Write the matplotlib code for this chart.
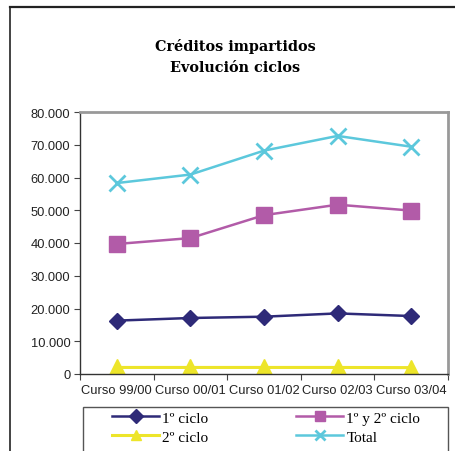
"""Créditos impartidos - evolución ciclos"""
import matplotlib.pyplot as plt
from matplotlib.lines import Line2D
from matplotlib.patches import Rectangle
from matplotlib.ticker import FuncFormatter

# Data
cursos = ["Curso 99/00", "Curso 00/01", "Curso 01/02", "Curso 02/03", "Curso 03/04"]
primer_ciclo = [16300, 17100, 17500, 18500, 17700]
primer_segundo = [39700, 41500, 48500, 51700, 49900]
segundo_ciclo = [2000, 2000, 2000, 2000, 1950]
total = [58300, 60900, 68200, 72700, 69400]

W, H = 455, 452
fig = plt.figure(figsize=(W / 100, H / 100), dpi=100)

# outer frame (top + left only, as in the source page)
fig.add_artist(Line2D([10 / W, 1.0], [1 - 8 / H, 1 - 8 / H], color="#222222", lw=1.6))
fig.add_artist(Line2D([10 / W, 10 / W], [1 - 8 / H, 0], color="#222222", lw=1.2))

ax = fig.add_axes([80 / W, 77 / H, 368 / W, 262 / H])
x = range(len(cursos))

l1, = ax.plot(x, primer_ciclo, color="#2E2A78", lw=1.8, marker="D", ms=8, label="1º ciclo")
l2, = ax.plot(x, primer_segundo, color="#B25BA8", lw=1.8, marker="s", ms=11, label="1º y 2º ciclo")
l3, = ax.plot(x, segundo_ciclo, color="#EDE52A", lw=2.2, marker="^", ms=12, label="2º ciclo")
l4, = ax.plot(x, total, color="#5CC8DC", lw=1.8, marker="x", ms=12, mew=2, label="Total")

ax.set_xlim(-0.5, len(cursos) - 0.5)
ax.set_ylim(0, 80000)
ax.set_yticks(range(0, 80001, 10000))
ax.yaxis.set_major_formatter(FuncFormatter(lambda v, p: "0" if v == 0 else f"{int(v):,}".replace(",", ".")))

# category labels between boundary ticks
ax.set_xticks([i - 0.5 for i in range(len(cursos) + 1)])
ax.set_xticklabels([])
ax.set_xticks(list(x), minor=True)
ax.set_xticklabels(cursos, minor=True, fontfamily="Liberation Sans", fontsize=9.3, color="#222222")
ax.tick_params(axis="x", which="minor", length=0, pad=7)
ax.tick_params(axis="x", which="major", direction="out", length=4, color="#444444")
ax.tick_params(axis="y", direction="out", length=4, color="#444444", labelsize=9.3, pad=3)
for lab in ax.get_yticklabels():
    lab.set_fontfamily("Liberation Sans")
    lab.set_color("#222222")

for side in ["top", "right"]:
    ax.spines[side].set_color("#999999")
    ax.spines[side].set_linewidth(2)
for side in ["left", "bottom"]:
    ax.spines[side].set_color("#333333")
    ax.spines[side].set_linewidth(1)

fig.text(235 / W, 1 - 46 / H, "Créditos impartidos", ha="center", va="center",
         fontfamily="DejaVu Serif", fontweight="bold", fontsize=10.4)
fig.text(235 / W, 1 - 68 / H, "Evolución ciclos", ha="center", va="center",
         fontfamily="DejaVu Serif", fontweight="bold", fontsize=10.4)

# legend: two columns placed separately, box open at the bottom edge of the image
leg_kw = dict(loc="upper left", frameon=False, handlelength=3.1, borderpad=0, borderaxespad=0,
              labelspacing=0.35, handletextpad=0.2,
              prop={"family": "Liberation Serif", "size": 11})
leg_a = fig.legend([l1, l3], ["1º ciclo", "2º ciclo"], bbox_to_anchor=(112 / W, 1 - 412 / H), **leg_kw)
leg_b = fig.legend([l2, l4], ["1º y 2º ciclo", "Total"], bbox_to_anchor=(296 / W, 1 - 412 / H), **leg_kw)
for leg in (leg_a, leg_b):
    for h in leg.legend_handles:
        h.set_markersize(7.5)
fig.add_artist(Rectangle((83 / W, -0.01), 365 / W, 1 - 408 / H + 0.01, transform=fig.transFigure,
                         fill=False, edgecolor="#555555", lw=1))

fig.savefig("out.png", dpi=100)
